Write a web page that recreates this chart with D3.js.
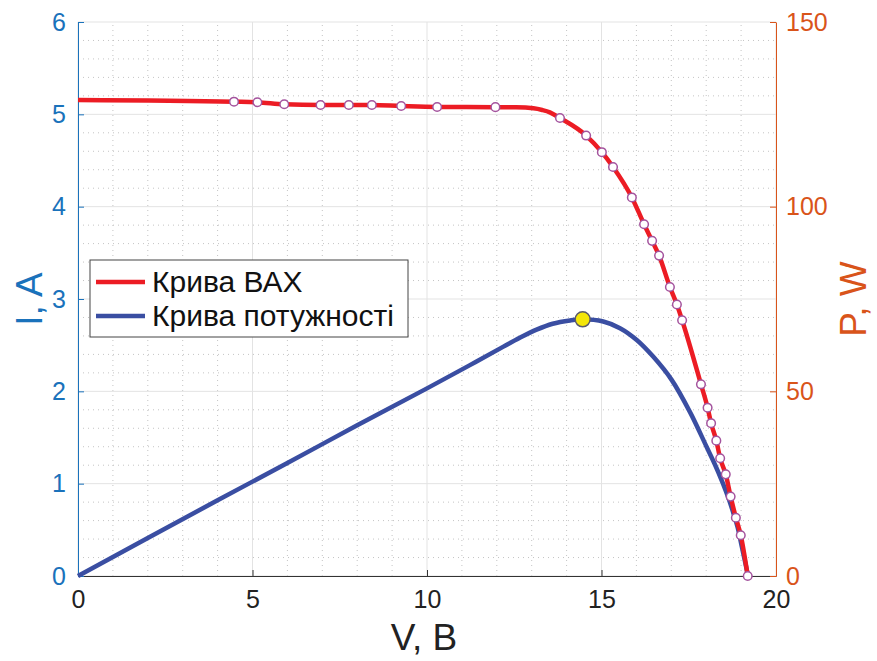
<!DOCTYPE html>
<html>
<head>
 <meta charset="utf-8"/>
 <script src="https://d3js.org/d3.v7.min.js"></script>
 <style>
  body { margin:0; background:#fff; }
  text { font-family: "Liberation Sans", Arial, sans-serif; }
 </style>
</head>
<body>
 <div id="graph"></div>
 <script type="text/javascript">
   // крива ВАХ (лінія)
   var ivV = [0, 4.47, 5.14, 5.91, 6.95, 7.76, 8.42, 9.26, 10.29, 11.96, 12.55, 13.05, 13.3, 13.52, 13.81, 14.56, 15.01, 15.33, 15.87, 16.22, 16.45, 16.65, 16.96, 17.16, 17.31, 17.85, 18.04, 18.14, 18.29, 18.40, 18.56, 18.70, 18.85, 18.99, 19.19];
   var ivI = [5.155, 5.137, 5.131, 5.109, 5.101, 5.101, 5.101, 5.09, 5.08, 5.078, 5.076, 5.065, 5.047, 5.022, 4.96, 4.77, 4.59, 4.43, 4.10, 3.81, 3.63, 3.47, 3.13, 2.94, 2.77, 2.076, 1.823, 1.655, 1.466, 1.275, 1.101, 0.860, 0.631, 0.441, 0.0];
   // виміряні точки
   var ptV = [4.47, 5.14, 5.91, 6.95, 7.76, 8.42, 9.26, 10.29, 11.96, 13.81, 14.56, 15.01, 15.33, 15.87, 16.22, 16.45, 16.65, 16.96, 17.16, 17.31, 17.85, 18.04, 18.14, 18.29, 18.40, 18.56, 18.70, 18.85, 18.99, 19.19];
   var ptI = [5.137, 5.131, 5.109, 5.101, 5.101, 5.101, 5.09, 5.08, 5.078, 4.96, 4.77, 4.59, 4.43, 4.10, 3.81, 3.63, 3.47, 3.13, 2.94, 2.77, 2.076, 1.823, 1.655, 1.466, 1.275, 1.101, 0.860, 0.631, 0.441, 0.0];
   // крива потужності
   var pwV = [0, 2, 4, 6, 8, 10, 11.23, 12.19, 12.66, 13.14, 13.6, 14.1, 14.46, 15.05, 15.53, 16.01, 16.48, 17.01, 17.54, 18.01, 18.25, 18.47, 18.65, 18.78, 18.9, 19.02, 19.2];
   var pwP = [0, 10.3, 20.5, 30.6, 40.8, 50.8, 57.1, 62.1, 64.5, 66.7, 68.3, 69.2, 69.5, 68.9, 67.1, 63.9, 59.4, 53.1, 44.3, 35.0, 30.2, 25.3, 20.8, 17.0, 13.2, 8.0, 0];
   var mppV = 14.46, mppP = 69.5;

   var xTicks = [0, 5, 10, 15, 20];
   var yTicks = [0, 1, 2, 3, 4, 5, 6];
   var pTicks = [0, 50, 100, 150];
   var legendLabels = ["Крива ВАХ", "Крива потужності"];

   var width = 877, height = 661;
   var m = {left: 78, right: 101, top: 22, bottom: 85};
   var svg = d3.select("#graph").append("svg")
       .attr("width", width).attr("height", height);

   var x = d3.scaleLinear().domain([0, 20]).range([m.left, width - m.right]);
   var y = d3.scaleLinear().domain([0, 6]).range([height - m.bottom, m.top]);
   var yp = d3.scaleLinear().domain([0, 150]).range([height - m.bottom, m.top]);

   var blueAx = "#1a72bb", orangeAx = "#d9541a";

   // сітка
   var grid = svg.append("g");
   d3.range(0, 20.01, 1).forEach(function(v) {
     if (v % 5 === 0) return;
     grid.append("line").attr("x1", x(v)).attr("x2", x(v)).attr("y1", y(0)).attr("y2", y(6))
       .attr("stroke", "#c4c4c4").attr("stroke-dasharray", "1,4");
   });
   d3.range(0, 6.01, 0.2).forEach(function(v) {
     if (Math.abs(v - Math.round(v)) < 1e-6) return;
     grid.append("line").attr("x1", x(0)).attr("x2", x(20)).attr("y1", y(v)).attr("y2", y(v))
       .attr("stroke", "#c4c4c4").attr("stroke-dasharray", "1,4");
   });
   xTicks.forEach(function(v) {
     grid.append("line").attr("x1", x(v)).attr("x2", x(v)).attr("y1", y(0)).attr("y2", y(6))
       .attr("stroke", "#e3e3e3");
   });
   yTicks.forEach(function(v) {
     grid.append("line").attr("x1", x(0)).attr("x2", x(20)).attr("y1", y(v)).attr("y2", y(v))
       .attr("stroke", "#e3e3e3");
   });

   // осі
   var xAxis = svg.append("g").attr("transform", "translate(0," + y(0) + ")")
     .call(d3.axisBottom(x).tickValues(xTicks).tickFormat(d3.format("d"))
       .tickSizeInner(-6).tickSizeOuter(0).tickPadding(14));
   xAxis.select(".domain").attr("stroke", "#333");
   xAxis.selectAll(".tick line").attr("stroke", "#333");
   xAxis.selectAll("text").attr("font-size", 25).attr("fill", "#222");

   var yAxis = svg.append("g").attr("transform", "translate(" + x(0) + ",0)")
     .call(d3.axisLeft(y).tickValues(yTicks).tickFormat(d3.format("d"))
       .tickSizeInner(-6).tickSizeOuter(0).tickPadding(12));
   yAxis.select(".domain").attr("stroke", blueAx);
   yAxis.selectAll(".tick line").attr("stroke", blueAx);
   yAxis.selectAll("text").attr("font-size", 25).attr("fill", blueAx);

   var pAxis = svg.append("g").attr("transform", "translate(" + x(20) + ",0)")
     .call(d3.axisRight(yp).tickValues(pTicks).tickFormat(d3.format("d"))
       .tickSizeInner(-6).tickSizeOuter(0).tickPadding(10));
   pAxis.select(".domain").attr("stroke", orangeAx);
   pAxis.selectAll(".tick line").attr("stroke", orangeAx);
   pAxis.selectAll("text").attr("font-size", 25).attr("fill", orangeAx);

   // криві
   var ivLine = d3.line().curve(d3.curveMonotoneX)
     .x(function(d, i) { return x(ivV[i]); }).y(function(d) { return y(d); });
   var pwLine = d3.line().curve(d3.curveCatmullRom.alpha(0.5))
     .x(function(d, i) { return x(pwV[i]); }).y(function(d) { return yp(d); });

   svg.append("path").datum(pwP).attr("d", pwLine)
     .attr("fill", "none").attr("stroke", "#3a4ea2").attr("stroke-width", 4.5);
   svg.append("path").datum(ivI).attr("d", ivLine)
     .attr("fill", "none").attr("stroke", "#ec1c24").attr("stroke-width", 4.5);

   svg.append("g").selectAll("circle").data(ptI).enter().append("circle")
     .attr("cx", function(d, i) { return x(ptV[i]); })
     .attr("cy", function(d) { return y(d); })
     .attr("r", 4.3).attr("fill", "#fff").attr("stroke", "#a4549e").attr("stroke-width", 1.5);

   svg.append("circle").attr("cx", x(mppV)).attr("cy", yp(mppP)).attr("r", 7.5)
     .attr("fill", "#f4e608").attr("stroke", "#5a5a6a").attr("stroke-width", 1.5);

   // підписи осей
   svg.append("text").attr("x", 424).attr("y", 650).attr("text-anchor", "middle")
     .attr("font-size", 37).attr("fill", "#222").text("V, B");
   svg.append("text").attr("transform", "translate(42," + y(3) + ") rotate(-90)")
     .attr("text-anchor", "middle").attr("font-size", 37).attr("fill", blueAx).text("I, A");
   svg.append("text").attr("transform", "translate(866," + y(3) + ") rotate(-90)")
     .attr("text-anchor", "middle").attr("font-size", 37).attr("fill", orangeAx).text("P, W");

   // легенда
   var lg = svg.append("g").attr("transform", "translate(90,260)");
   lg.append("rect").attr("width", 318).attr("height", 77)
     .attr("fill", "#fff").attr("stroke", "#444").attr("stroke-width", 1);
   var lgColors = ["#ec1c24", "#3a4ea2"];
   legendLabels.forEach(function(t, i) {
     var yy = 22 + i * 34;
     lg.append("line").attr("x1", 6).attr("x2", 55).attr("y1", yy).attr("y2", yy)
       .attr("stroke", lgColors[i]).attr("stroke-width", 4.5);
     lg.append("text").attr("x", 62).attr("y", yy + 10).attr("font-size", 30).attr("fill", "#111").text(t);
   });
 </script>
</body>
</html>
